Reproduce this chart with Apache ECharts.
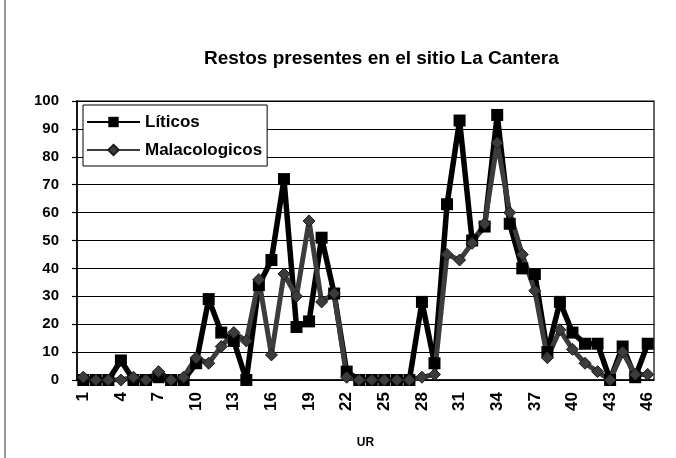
<!DOCTYPE html>
<html>
<head>
<meta charset="utf-8">
<script src="https://cdn.jsdelivr.net/npm/echarts@6/dist/echarts.min.js"></script>
<style>html,body{margin:0;padding:0;background:#fff;}#c{width:676px;height:458px;}</style>
</head>
<body>
<div id="c"></div>
<script>
var categories = ['1','2','3','4','5','6','7','8','9','10','11','12','13','14','15','16','17','18','19','20','21','22','23','24','25','26','27','28','29','30','31','32','33','34','35','36','37','38','39','40','41','42','43','44','45','46'];
var liticos = [0,0,0,7,0,0,1,0,0,6, 29,17,14,0,34,43,72,19,21,51, 31,3,0,0,0,0,0,28,6,63, 93,50,55,95,56,40,38,10,28,17, 13,13,0,12,1,13];
var malacologicos = [1,0,0,0,1,0,3,0,1,8, 6,12,17,14,36,9,38,30,57,28, 31,1,0,0,0,0,0,1,2,45, 43,49,56,85,60,45,32,8,18,11, 6,3,0,10,2,2];
var titleText = 'Restos presentes en el sitio La Cantera';
var xName = 'UR';

var chart = echarts.init(document.getElementById('c'), null, {renderer: 'canvas'});
var F = 'Liberation Sans, Arial, sans-serif';
chart.setOption({
  animation: false,
  backgroundColor: '#fff',
  title: {
    text: titleText, left: 199, top: 44,
    textStyle: {fontFamily: F, fontSize: 19, fontWeight: 'bold', color: '#000'}
  },
  legend: {
    orient: 'vertical', left: 83, top: 105,
    padding: [7, 5, 6, 3], itemGap: 8, itemWidth: 53, itemHeight: 13,
    backgroundColor: '#fff', borderColor: '#000', borderWidth: 1,
    textStyle: {fontFamily: F, fontSize: 17, fontWeight: 'bold', color: '#000', lineHeight: 20},
    data: ['Líticos', 'Malacologicos']
  },
  graphic: [{type: 'line', shape: {x1: 5, y1: 0, x2: 5, y2: 458}, style: {stroke: '#333', lineWidth: 1}}],
  grid: {left: 77, right: 22, top: 101, bottom: 78, show: true, borderColor: '#000', borderWidth: 1.2},
  xAxis: {
    type: 'category', data: categories, boundaryGap: true,
    name: xName, nameLocation: 'middle', nameGap: 57,
    nameTextStyle: {fontFamily: F, fontSize: 12, fontWeight: 'bold', color: '#000'},
    axisLine: {lineStyle: {color: '#000', width: 1.5}},
    axisTick: {interval: 0, length: 5, lineStyle: {color: '#000', width: 1.2}},
    axisLabel: {interval: 2, rotate: 90, margin: 12, fontFamily: F, fontSize: 17, fontWeight: 'bold', color: '#000'},
    splitLine: {show: false}
  },
  yAxis: {
    type: 'value', min: 0, max: 100, interval: 10,
    axisLine: {show: true, lineStyle: {color: '#000', width: 1.5}},
    axisTick: {show: true, length: 5, lineStyle: {color: '#000', width: 1.2}},
    axisLabel: {margin: 18, fontFamily: F, fontSize: 15, fontWeight: 'bold', color: '#000'},
    splitLine: {lineStyle: {color: '#000', width: 1.2}}
  },
  series: [
    {
      name: 'Líticos', type: 'line', data: liticos,
      symbol: 'rect', symbolSize: 12, showAllSymbol: true,
      lineStyle: {color: '#000', width: 5.5},
      itemStyle: {color: '#000'}
    },
    {
      name: 'Malacologicos', type: 'line', data: malacologicos,
      symbol: 'diamond', symbolSize: 12, showAllSymbol: true,
      lineStyle: {color: '#3c3c3c', width: 5},
      itemStyle: {color: '#3c3c3c', borderColor: '#1a1a1a', borderWidth: 1}
    }
  ]
});
</script>
</body>
</html>
